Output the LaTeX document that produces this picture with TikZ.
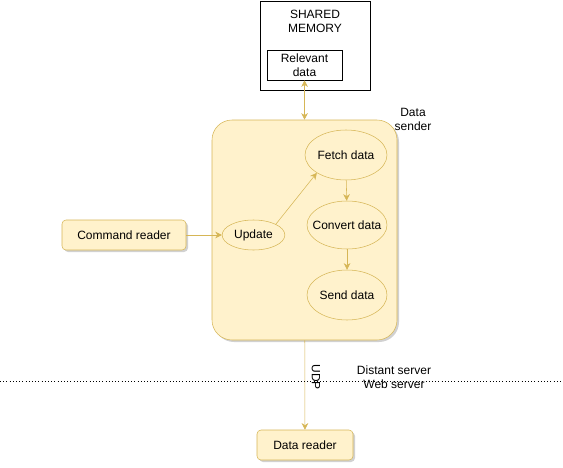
\documentclass[tikz,border=0pt]{standalone}
\usepackage{fontspec}
\setmainfont{Liberation Sans}
\usetikzlibrary{arrows.meta,shapes.geometric,shadows}
\definecolor{ybord}{HTML}{D6B656}
\definecolor{yfill}{HTML}{FFF2CC}
\begin{document}
\begin{tikzpicture}[x=0.75pt,y=-0.75pt,
  font=\fontsize{9}{10.5}\selectfont,
  arr/.style={draw=ybord,-{Stealth[length=5pt,width=5pt]}},
  yshad/.style={drop shadow={shadow xshift=1.5pt,shadow yshift=-1.5pt,fill=black!30,opacity=0.6}},
  ybox/.style={draw=ybord,fill=yfill,rounded corners=3pt,yshad,minimum width=#1,minimum height=22.5pt},
  yell/.style={ellipse,draw=ybord,fill=yfill,inner sep=0pt}]
  \useasboundingbox (0,0) rectangle (563,467);

  % shared memory
  \node[draw,minimum width=82.5pt,minimum height=66.75pt] (shm) at (315,45.5) {};
  \node[align=center] (shmlab) at (315,21) {SHARED\\MEMORY};
  \node[draw,align=center,inner sep=1pt,minimum width=56.25pt,minimum height=22.5pt] (rel) at (304.5,65) {Relevant\\data};

  % data sender
  \node[draw=ybord,fill=yfill,rounded corners=15pt,yshad,minimum width=138.75pt,minimum height=165pt] (sender) at (304.5,230) {};
  \node[align=center] (senderlab) at (413,119) {Data\\sender};

  \node[yell,minimum width=61.5pt,minimum height=37.5pt] (fetch) at (346,155) {Fetch data};
  \node[yell,inner xsep=-5pt,minimum width=60pt,minimum height=36pt] (conv) at (347,225) {Convert data};
  \node[yell,minimum width=60pt,minimum height=37.5pt] (send) at (347,295) {Send data};
  \node[yell,minimum width=47pt,minimum height=22.5pt] (update) at (253.5,235) {Update};

  % other blocks
  \node[ybox=93pt] (cmd) at (124,235) {Command reader};
  \node[ybox=72pt] (reader) at (305,445) {Data reader};

  % links
  \draw[draw=ybord,{Stealth[length=5pt,width=5pt]}-{Stealth[length=5pt,width=5pt]}] (rel) -- (sender);
  \draw[arr] (cmd) -- (update);
  \draw[arr] (update.north east) -- (fetch.south west);
  \draw[arr] (fetch) -- (conv);
  \draw[arr] (conv) -- (send);
  \draw[arr] (sender) -- (reader);

  % border
  \draw[dotted] (0,381) -- (563,381);
  \node[rotate=-90] (udp) at (316,377) {UDP};
  \node[align=center] (srv) at (394,377) {Distant server\\Web server};
\end{tikzpicture}
\end{document}
